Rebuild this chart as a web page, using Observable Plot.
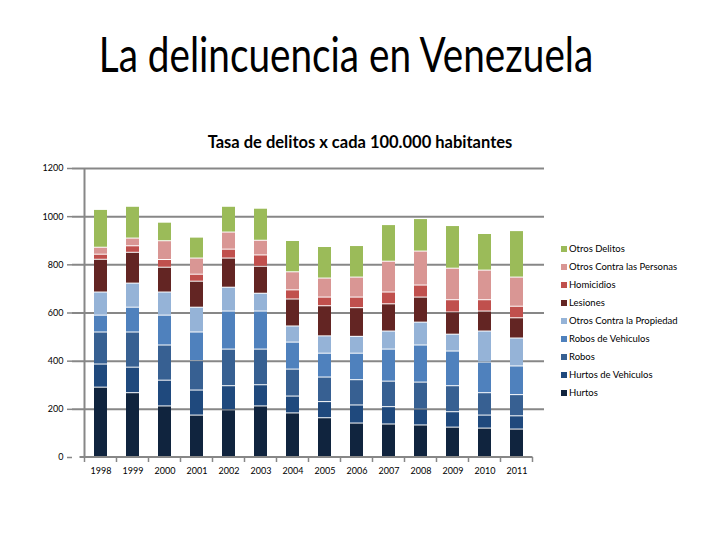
<!DOCTYPE html>
<html>
<head>
<meta charset="utf-8">
<script src="https://cdn.jsdelivr.net/npm/d3@7"></script>
<script src="https://cdn.jsdelivr.net/npm/@observablehq/plot@0.6"></script>
<style>
  html, body { margin: 0; padding: 0; background: #fff; }
  #wrap { position: relative; width: 720px; height: 540px; overflow: hidden; font-family: Lato, "Open Sans", sans-serif; }
  #wrap svg { position: absolute; left: 0; top: 0; }
  .title { position: absolute; left: 0; width: 720px; text-align: center; white-space: nowrap; }
  #t1 { top: 24px; font-size: 49px; font-weight: 400; color: #000; transform: translateX(-14px) scaleX(0.79); transform-origin: 360px 0; }
  #t2 { top: 132px; font-size: 16.5px; font-weight: 700; color: #000; }
  #legend { position: absolute; left: 561px; top: 240px; font-size: 9.5px; color: #000; }
  .li { height: 18px; line-height: 12px; display: flex; align-items: center; }
  .sw { width: 6px; height: 6px; margin-right: 2px; display: inline-block; }
</style>
</head>
<body>
<div id="wrap">
  <div id="chart"></div>
  <div class="title" id="t1">La delincuencia en Venezuela</div>
  <div class="title" id="t2">Tasa de delitos x cada 100.000 habitantes</div>
  <div id="legend"></div>
</div>
<script>
const years = ["1998","1999","2000","2001","2002","2003","2004","2005","2006","2007","2008","2009","2010","2011"];
const seriesNames = ["Hurtos","Hurtos de Vehiculos","Robos","Robos de Vehiculos","Otros Contra la Propiedad","Lesiones","Homicidios","Otros Contra las Personas","Otros Delitos"];
const colors = ["#10243e","#1f497d","#376092","#4f81bd","#95b3d7","#632523","#c0504d","#d99694","#9bbb59"];

const hurtos      = [290,267,212,174,196,212,183,163,141,137,133,124,120,116];
const hurtosVeh   = [96,106,107,104,100,88,70,67,75,72,66,64,54,55];
const robos       = [133,146,146,122,152,148,112,102,105,106,112,108,93,88];
const robosVeh    = [70,103,124,119,158,158,112,99,110,133,154,144,127,119];
const otrosProp   = [96,100,96,103,99,74,67,72,70,75,95,70,129,116];
const lesiones    = [136,128,103,108,121,112,112,125,119,113,104,92,83,84];
const homicidios  = [21,27,32,29,37,47,38,36,44,49,50,51,47,48];
const otrosPers   = [29,32,78,67,71,61,75,79,83,128,141,131,123,121];
const otrosDel    = [157,132,77,87,107,133,130,131,131,152,135,177,152,193];
const yTicks = [0,200,400,600,800,1000,1200];

const seriesValues = [hurtos,hurtosVeh,robos,robosVeh,otrosProp,lesiones,homicidios,otrosPers,otrosDel];
const data = [];
seriesNames.forEach((s, i) => years.forEach((y, j) => data.push({year: y, series: s, value: seriesValues[i][j]})));

const W = 720, H = 540, mL = 72, mR = 176, mT = 168, mB = 83;
const grid = "#878787";

const plot = Plot.plot({
  width: W, height: H,
  marginLeft: mL, marginRight: mR, marginTop: mT, marginBottom: mB,
  style: {fontFamily: "Lato, 'Open Sans', sans-serif", fontSize: "9px", color: "#000", background: "transparent", overflow: "visible"},
  x: {domain: years, padding: 0.6, label: null},
  y: {domain: [0, 1200], label: null},
  color: {domain: seriesNames, range: colors},
  marks: [
    Plot.gridY(yTicks.filter(d => d > 0), {stroke: grid, strokeOpacity: 1, strokeWidth: 2}),
    Plot.barY(data, {x: "year", y: "value", fill: "series", order: null, insetTop: 0.5, insetBottom: 0.5}),
    Plot.axisY(yTicks, {tickSize: 5, tickPadding: 4, tickFormat: d => String(d), stroke: grid, strokeWidth: 1.5, fontSize: 9, fill: "#000"}),
    Plot.axisX({tickSize: 0, tickPadding: 10, fontSize: 9, fill: "#000"})
  ]
});
document.getElementById("chart").appendChild(plot);

// axis lines and category boundary ticks, Excel style, placed via the plot's own scales
const xs = plot.scale("x"), ys = plot.scale("y");
const svg = d3.select(plot);
const bw = xs.step;
const x0 = xs.apply(years[0]) - (bw - xs.bandwidth) / 2;
const y0 = ys.apply(0), yTop = ys.apply(1200);
const g = svg.append("g").attr("stroke", grid);
g.append("line").attr("x1", x0).attr("x2", x0).attr("y1", yTop).attr("y2", y0).attr("stroke-width", 2);
g.append("line").attr("x1", x0 - 5).attr("x2", x0 + years.length * bw).attr("y1", y0).attr("y2", y0).attr("stroke-width", 2);
for (let i = 0; i <= years.length; i++) {
  g.append("line").attr("x1", x0 + i * bw).attr("x2", x0 + i * bw).attr("y1", y0).attr("y2", y0 + 5).attr("stroke-width", 1.5);
}

// legend
const leg = document.getElementById("legend");
seriesNames.slice().reverse().forEach(s => {
  const i = seriesNames.indexOf(s);
  const row = document.createElement("div");
  row.className = "li";
  row.innerHTML = `<span class="sw" style="background:${colors[i]}"></span><span>${s}</span>`;
  leg.appendChild(row);
});
</script>
</body>
</html>
